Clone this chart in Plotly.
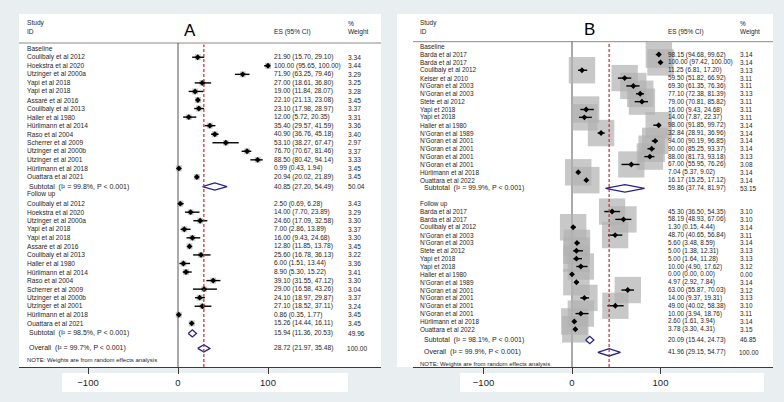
import plotly.graph_objects as go

W, H = 784, 402
BG = "#e9eef1"
TXT = "#1e1e1e"
FONT = "Liberation Sans, Arial, sans-serif"

# ---------------- Panel A data ----------------
a_names = ["Coulibaly et al 2012", "Hoekstra et al 2020", "Utzinger et al 2000a", "Yapi et al 2018",
           "Yapi et al 2018", "Assaré et al 2016", "Coulibaly et al 2013", "Haller et al 1980",
           "Hürlimann et al 2014", "Raso et al 2004", "Scherrer et al 2009", "Utzinger et al 2000b",
           "Utzinger et al 2001", "Hürlimann et al 2018", "Ouattara et al 2021"]
a_base_es = [21.90, 100.00, 71.90, 27.00, 19.00, 22.10, 23.10, 12.00, 35.40, 40.90, 53.10, 76.70, 88.50, 0.99, 20.94]
a_base_lo = [15.70, 95.65, 63.25, 18.61, 11.84, 21.13, 17.98, 5.72, 29.57, 36.76, 38.27, 70.67, 80.42, 0.43, 20.02]
a_base_hi = [29.10, 100.00, 79.46, 36.80, 28.07, 23.08, 28.97, 20.35, 41.59, 45.18, 67.47, 81.46, 94.14, 1.94, 21.89]
a_base_w = [3.34, 3.44, 3.29, 3.25, 3.28, 3.45, 3.37, 3.31, 3.36, 3.40, 2.97, 3.37, 3.33, 3.45, 3.45]
a_fu_es = [2.50, 14.00, 24.60, 7.00, 16.00, 12.80, 25.60, 6.00, 8.90, 39.10, 29.00, 24.10, 27.10, 0.86, 15.26]
a_fu_lo = [0.69, 7.70, 17.09, 2.86, 9.43, 11.85, 16.78, 1.51, 5.30, 31.55, 16.58, 18.97, 18.52, 0.35, 14.44]
a_fu_hi = [6.28, 23.89, 32.58, 13.89, 24.68, 13.78, 36.13, 13.44, 15.22, 47.12, 43.26, 29.87, 37.11, 1.77, 16.11]
a_fu_w = [3.43, 3.29, 3.30, 3.37, 3.30, 3.45, 3.22, 3.36, 3.41, 3.30, 3.04, 3.37, 3.24, 3.45, 3.45]
a_pooled = {"base": (40.85, 27.20, 54.49, 50.04, "99.8%"),
            "fu": (15.94, 11.36, 20.53, 49.96, "98.5%"),
            "overall": (28.72, 21.97, 35.48, 100.00, "99.7%")}

# ---------------- Panel B data ----------------
b_base_names = ["Barda et al 2017", "Barda et al 2017", "Coulibaly et al 2012", "Keiser et al 2010",
                "N'Goran et al 2003", "N'Goran et al 2003", "Stete et al 2012", "Yapi et 2018", "Yapi et 2018",
                "Haller et al 1980", "N'Goran et al 1989", "N'Goran et al 2001", "N'Goran et al 2001",
                "N'Goran et al 2001", "N'Goran et al 2001", "Hürlimann et al 2018", "Ouattara et al 2022"]
b_base_es = [98.15, 100.00, 11.25, 59.50, 69.30, 77.10, 79.00, 16.00, 14.00, 98.00, 32.84, 94.00, 90.00, 88.00, 67.00, 7.04, 16.17]
b_base_lo = [94.68, 97.42, 6.81, 51.82, 61.35, 72.38, 70.81, 9.43, 7.87, 91.85, 28.91, 90.19, 85.25, 81.73, 55.95, 5.37, 15.25]
b_base_hi = [99.62, 100.00, 17.20, 66.92, 76.36, 81.39, 85.82, 24.68, 22.37, 99.72, 36.96, 96.85, 93.37, 93.18, 76.26, 9.02, 17.12]
b_base_w = [3.14, 3.14, 3.13, 3.11, 3.11, 3.13, 3.11, 3.11, 3.11, 3.14, 3.14, 3.14, 3.14, 3.13, 3.08, 3.14, 3.14]
b_fu_names = ["Barda et al 2017", "Barda et al 2017", "Coulibaly et al 2012", "N'Goran et al 2003",
              "N'Goran et al 2003", "Stete et al 2012", "Yapi et 2018", "Yapi et 2018", "Haller et al 1980",
              "N'Goran et al 1989", "N'Goran et al 2001", "N'Goran et al 2001", "N'Goran et al 2001",
              "N'Goran et al 2001", "Hürlimann et al 2018", "Ouattara et al 2022"]
b_fu_es = [45.30, 58.19, 1.30, 48.70, 5.60, 5.00, 5.00, 10.00, 0.00, 4.97, 63.00, 14.00, 49.00, 10.00, 2.60, 3.78]
b_fu_lo = [36.50, 48.93, 0.15, 40.65, 3.48, 1.38, 1.64, 4.90, 0.00, 2.92, 55.87, 9.37, 40.02, 3.94, 1.61, 3.30]
b_fu_hi = [54.35, 67.06, 4.44, 56.84, 8.59, 12.31, 11.28, 17.62, 0.00, 7.84, 70.03, 19.31, 58.38, 18.76, 3.94, 4.31]
b_fu_w = [3.10, 3.10, 3.14, 3.11, 3.14, 3.13, 3.13, 3.12, 0.00, 3.14, 3.12, 3.13, 3.10, 3.11, 3.14, 3.15]
b_pooled = {"base": (59.86, 37.74, 81.97, 53.15, "99.9%"),
            "fu": (20.09, 15.44, 24.73, 46.85, "98.1%"),
            "overall": (41.96, 29.15, 54.77, 100.00, "99.9%")}

tick_vals = [-100, 0, 100]
tick_text = ["\u2212100", "0", "100"]


def px(x):
    return x / W


def py(y):
    return 1 - y / H


shapes = []
annotations = []
fig = go.Figure()

panels = [
    dict(tag="A", xa="x", ya="y", xkey="xaxis", ykey="yaxis",
         white=(19, 14, 381, 367), axis=(19, 381), zero=178, scale=0.9,
         row0=48.7, rowh=8.55, hline_y=43, label_box=(62, 373, 348, 392),
         name_x=25, sub_x=27, es_x=272, w_x=346, letter=(190, 30.5), hdr=(23, 32),
         names_base=a_names, names_fu=a_names,
         base=(a_base_es, a_base_lo, a_base_hi, a_base_w),
         fu=(a_fu_es, a_fu_lo, a_fu_hi, a_fu_w), pooled=a_pooled,
         rows_base=[1 + i for i in range(15)], sub1=16.12, fuhead=17.0,
         rows_fu=[18.12 + i for i in range(15)], sub2=33.3, overall=35.05, note=36.4,
         box_px=6.0, dia_h=0.42, fs=6.6, fs_sub=7.0),
    dict(tag="B", xa="x2", ya="y2", xkey="xaxis2", ykey="yaxis2",
         white=(397, 14, 773, 367), axis=(413, 773), zero=572, scale=0.885,
         row0=46.7, rowh=7.85, hline_y=41.7, label_box=(460, 373, 764, 392),
         name_x=418, sub_x=422, es_x=666, w_x=738, letter=(589, 29.5), hdr=(23, 31.5),
         names_base=b_base_names, names_fu=b_fu_names,
         base=(b_base_es, b_base_lo, b_base_hi, b_base_w),
         fu=(b_fu_es, b_fu_lo, b_fu_hi, b_fu_w), pooled=b_pooled,
         rows_base=[1 + i for i in range(17)], sub1=18.05, fuhead=20.05,
         rows_fu=[21 + i for i in range(16)], sub2=37.36, overall=38.93, note=40.42,
         box_px=26.5, dia_h=0.47, fs=6.4, fs_sub=7.0),
]

layout_axes = {}
for p in panels:
    x0, x1 = p["axis"]
    rng = [(x0 - p["zero"]) / p["scale"], (x1 - p["zero"]) / p["scale"]]
    layout_axes[p["xkey"]] = dict(
        domain=[px(x0), px(x1)], range=rng, anchor="free", position=py(367),
        showline=True, linecolor="#3a3a3a", linewidth=1.2, ticks="outside", ticklen=6,
        tickcolor="#3a3a3a", tickwidth=1, tickvals=tick_vals, ticktext=tick_text,
        tickfont=dict(family=FONT, size=9.5, color=TXT), showgrid=False, zeroline=False,
        fixedrange=True)
    top = -p["row0"] / p["rowh"]
    bottom = top + H / p["rowh"]
    layout_axes[p["ykey"]] = dict(domain=[0, 1], range=[bottom, top], visible=False,
                                  anchor=p["xa"], fixedrange=True)

    # backgrounds
    wx0, wy0, wx1, wy1 = p["white"]
    shapes.append(dict(type="rect", xref="paper", yref="paper", x0=px(wx0), x1=px(wx1),
                       y0=py(wy1), y1=py(wy0), fillcolor="white", line=dict(width=0), layer="below"))
    lx0, ly0, lx1, ly1 = p["label_box"]
    shapes.append(dict(type="rect", xref="paper", yref="paper", x0=px(lx0), x1=px(lx1),
                       y0=py(ly1), y1=py(ly0), fillcolor="white", line=dict(width=0), layer="below"))
    # header rule
    shapes.append(dict(type="line", xref="paper", yref="paper", x0=px(wx0 if p["tag"] == "A" else x0),
                       x1=px(wx1), y0=py(p["hline_y"]), y1=py(p["hline_y"]),
                       line=dict(color="#8a8a8a", width=1), layer="below"))
    # null line
    shapes.append(dict(type="line", xref=p["xa"], yref="paper", x0=0, x1=0,
                       y0=py(367), y1=py(p["hline_y"]), line=dict(color="#555555", width=1), layer="below"))

    es_b, lo_b, hi_b, w_b = p["base"]
    es_f, lo_f, hi_f, w_f = p["fu"]
    all_es = es_b + es_f
    all_lo = lo_b + lo_f
    all_hi = hi_b + hi_f
    all_w = w_b + w_f
    all_rows = p["rows_base"] + p["rows_fu"]
    wref = max(all_w)

    # weight boxes
    bx, by, bs = [], [], []
    for e, w, r in zip(all_es, all_w, all_rows):
        if w > 0:
            bx.append(e)
            by.append(r)
            bs.append(p["box_px"] * (w / wref) ** 0.5)
    fig.add_trace(go.Scatter(x=bx, y=by, mode="markers", xaxis=p["xa"], yaxis=p["ya"],
                             marker=dict(symbol="square", size=bs, color="#b0b0b0", line=dict(width=0)),
                             hoverinfo="skip", cliponaxis=False))
    # CI lines
    cx, cy = [], []
    for lo, hi, r in zip(all_lo, all_hi, all_rows):
        cx += [lo, hi, None]
        cy += [r, r, None]
    fig.add_trace(go.Scatter(x=cx, y=cy, mode="lines", xaxis=p["xa"], yaxis=p["ya"],
                             line=dict(color="black", width=1.4), hoverinfo="skip", cliponaxis=False))
    # point estimates
    fig.add_trace(go.Scatter(x=all_es, y=all_rows, mode="markers", xaxis=p["xa"], yaxis=p["ya"],
                             marker=dict(symbol="diamond", size=4.5, color="black", line=dict(width=0)),
                             hoverinfo="skip", cliponaxis=False))
    # pooled diamonds
    dx, dy = [], []
    h = p["dia_h"]
    for key, r in (("base", p["sub1"]), ("fu", p["sub2"]), ("overall", p["overall"])):
        e, lo, hi, w, i2 = p["pooled"][key]
        dx += [lo, e, hi, e, lo, None]
        dy += [r, r - h, r, r + h, r, None]
    fig.add_trace(go.Scatter(x=dx, y=dy, mode="lines", fill="toself", fillcolor="white",
                             xaxis=p["xa"], yaxis=p["ya"], line=dict(color="#23238c", width=1.3),
                             hoverinfo="skip", cliponaxis=False))
    # overall reference line (dashed)
    ov = p["pooled"]["overall"][0]
    shapes.append(dict(type="line", xref=p["xa"], yref="paper", x0=ov, x1=ov,
                       y0=py(367), y1=py(p["hline_y"] + 1.5),
                       line=dict(color="#b8322f", width=1.2, dash="3px,2px"), layer="above"))

    # ---- text ----
    def txt(x, y, s, size, yref="paper", **kw):
        d = dict(x=x, y=y, xref="paper", yref=yref, text=s, showarrow=False, xanchor="left",
                 yanchor="middle", font=dict(family=FONT, size=size, color=TXT))
        d.update(kw)
        annotations.append(d)

    ya = p["ya"]
    fs = p["fs"]
    h1, h2 = p["hdr"]
    txt(px(p["name_x"]), py(h1), "Study", fs)
    txt(px(p["name_x"]), py(h2), "ID", fs)
    txt(px(p["es_x"]), py(h2), "ES (95% CI)", fs)
    txt(px(p["w_x"]), py(h1), "%", fs)
    txt(px(p["w_x"]), py(h2), "Weight", fs)
    txt(px(p["letter"][0]), py(p["letter"][1]), p["tag"], 17, xanchor="center",
        font=dict(family=FONT, size=17, color="black"))

    txt(px(p["name_x"]), 0, "Baseline", fs, yref=ya)
    txt(px(p["name_x"]), p["fuhead"], "Follow up", fs, yref=ya)
    for names, es, lo, hi, w, rows in ((p["names_base"], es_b, lo_b, hi_b, w_b, p["rows_base"]),
                                      (p["names_fu"], es_f, lo_f, hi_f, w_f, p["rows_fu"])):
        for n, e, l, hh, ww, r in zip(names, es, lo, hi, w, rows):
            txt(px(p["name_x"]), r, n, fs, yref=ya)
            txt(px(p["es_x"]), r, f"{e:.2f} ({l:.2f}, {hh:.2f})", fs, yref=ya)
            txt(px(p["w_x"]), r, f"{ww:.2f}", fs, yref=ya)
    for key, r, label in (("base", p["sub1"], "Subtotal"), ("fu", p["sub2"], "Subtotal"),
                          ("overall", p["overall"], "Overall")):
        e, lo, hi, w, i2 = p["pooled"][key]
        txt(px(p["sub_x"]), r, f"{label}  (I\u00b2 = {i2}, P &lt; 0.001)", p["fs_sub"], yref=ya)
        txt(px(p["es_x"]), r, f"{e:.2f} ({lo:.2f}, {hi:.2f})", fs, yref=ya)
        txt(px(p["w_x"]) - (0.0 if w < 100 else px(1.5)), r, f"{w:.2f}", fs, yref=ya)
    txt(px(p["name_x"]), p["note"], "NOTE: Weights are from random effects analysis", 6.0, yref=ya)

fig.update_layout(
    width=W, height=H, margin=dict(l=0, r=0, t=0, b=0, pad=0),
    paper_bgcolor=BG, plot_bgcolor="rgba(0,0,0,0)", showlegend=False,
    shapes=shapes, annotations=annotations, **layout_axes)

fig.write_html("out.html")
